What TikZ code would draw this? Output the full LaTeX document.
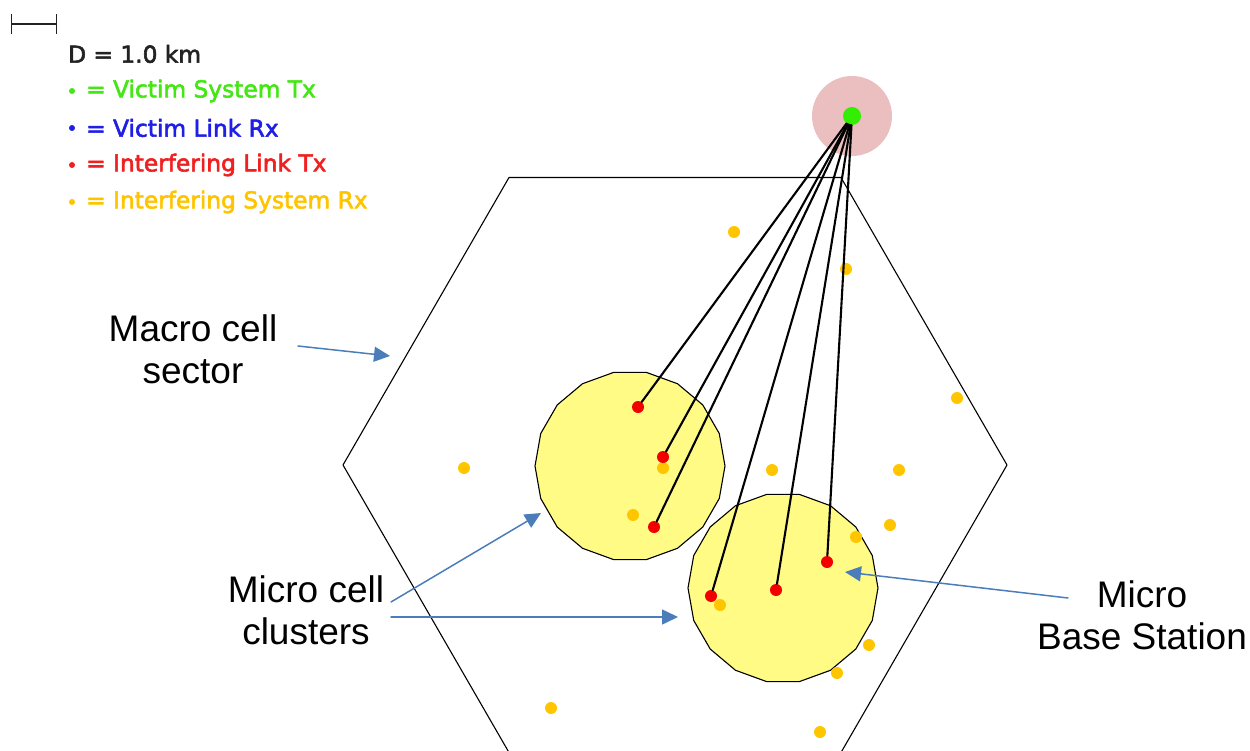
\documentclass[tikz,border=0pt]{standalone}
\usepackage{fontspec}
\setmainfont{Liberation Sans}
\newfontfamily\keyfont[FakeBold=2.5]{DejaVu Sans}
\usetikzlibrary{arrows.meta,shapes.geometric}
\definecolor{CellYellow}{HTML}{FFFB84}
\definecolor{HaloPink}{HTML}{EBBFBF}
\definecolor{VictimGreen}{HTML}{33EE00}
\definecolor{LinkRed}{HTML}{F20000}
\definecolor{RxYellow}{HTML}{FFC600}
\definecolor{CalloutBlue}{HTML}{4A7DBA}
\definecolor{KeyGray}{HTML}{222222}
\definecolor{KeyGreen}{HTML}{44E614}
\definecolor{KeyBlue}{HTML}{1E1EE6}
\definecolor{KeyRed}{HTML}{F02020}
\definecolor{KeyYellow}{HTML}{FFC400}

\begin{document}
\begin{tikzpicture}[x=1pt,y=-1pt,line cap=round,line join=round,
  dot/.style={circle,inner sep=0pt,minimum size=12pt},
  cell/.style={regular polygon,regular polygon sides=18,minimum size=190pt,inner sep=0pt,
    draw,line width=1.1pt,fill=CellYellow},
  link/.style={line width=2.1pt},
  callout/.style={draw=CalloutBlue,line width=1.5pt,-{Triangle[length=16pt,width=15pt]}},
  note/.style={font=\fontsize{37}{42}\selectfont,align=center,inner sep=0pt},
  keytext/.style={anchor=west,inner sep=0pt,font=\keyfont\fontsize{23.3}{26}\selectfont}]
  \useasboundingbox (0,0) rectangle (1250,751);
  % legend
  \draw[KeyGray,line width=1.2pt,{Bar[width=20pt]}-{Bar[width=20pt]}] (11,24) -- (57,24);
  \node[keytext,text=KeyGray] (dist) at (68,54) {D = 1.0 km};
  \foreach \y/\col/\txt [count=\i] in {91/KeyGreen/Victim System Tx,128/KeyBlue/Victim Link Rx,
      165/KeyRed/Interfering Link Tx,202/KeyYellow/Interfering System Rx} {
    \node[circle,fill=\col,inner sep=0pt,minimum size=6pt] (bullet\i) at (72,\y) {};
    \node[keytext,text=\col] (key\i) at (86,\y) {= \txt};
  }
  % macro cell sector and micro cell clusters
  \draw[line width=1.1pt] (343,465)--(509,177.5)--(841,177.5)--(1007,465)--(841,752.5)--(509,752.5)--cycle;
  \node[cell] (clusterA) at (630,466) {};
  \node[cell] (clusterB) at (783,588) {};
  % victim system tx
  \node[circle,fill=HaloPink,inner sep=0pt,minimum size=80pt] (halo) at (852,116) {};
  \node[dot,fill=VictimGreen,minimum size=18pt] (tx) at (852,116) {};
  % interfering system rx
  \foreach \p [count=\i] in {(734,232),(846,269),(957,398),(464,468),(772,470),(899,470),(663,468),
      (633,515),(890,525),(856,537),(720,605),(869,645),(837,673),(551,708),(820,732)}
    \node[dot,fill=RxYellow] (rx\i) at \p {};
  % interfering link tx
  \foreach \p [count=\i] in {(638,407),(663,457),(654,527),(711,596),(776,590),(827,562)} {
    \node[dot,fill=LinkRed] (itx\i) at \p {};
    \draw[link] (tx) -- (itx\i);
  }
  % callouts
  \node[note] (macro) at (193,349) {Macro cell\\sector};
  \node[note] (micro) at (306,610) {Micro cell\\clusters};
  \node[note] (mbs) at (1142,615) {Micro\\Base Station};
  \coordinate (macro tail) at (298,346); \coordinate (macro tip) at (390,356);
  \coordinate (micro tail a) at (391,602); \coordinate (micro tip a) at (541,513);
  \coordinate (micro tail b) at (391,617); \coordinate (micro tip b) at (678,617);
  \coordinate (mbs tail) at (1068,598); \coordinate (mbs tip) at (845,572);
  \draw[callout] (macro tail) -- (macro tip);
  \draw[callout] (micro tail a) -- (micro tip a);
  \draw[callout] (micro tail b) -- (micro tip b);
  \draw[callout] (mbs tail) -- (mbs tip);
\end{tikzpicture}
\end{document}
